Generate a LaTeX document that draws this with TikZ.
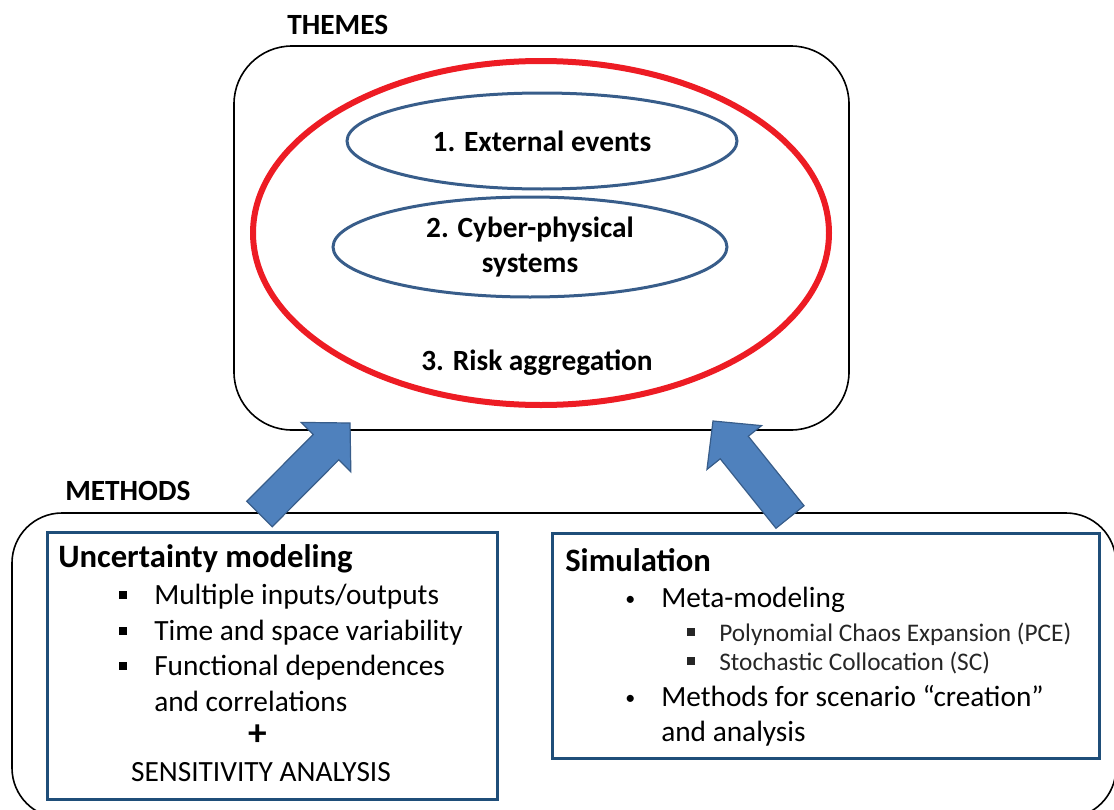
\documentclass[tikz,border=0pt]{standalone}
\usepackage{fontspec}
\setmainfont{Carlito}
\usetikzlibrary{shapes.geometric,calc}

\definecolor{framered}{RGB}{237,28,36}
\definecolor{ovalblue}{RGB}{56,93,138}
\definecolor{boxblue}{RGB}{31,78,121}
\definecolor{arrowfill}{RGB}{79,129,189}
\definecolor{arrowline}{RGB}{56,93,138}

\tikzset{
  framebox/.style={draw=black, line width=1.2pt, inner sep=0pt},
  methodbox/.style={draw=boxblue, line width=2.25pt, inner sep=0pt},
  oval/.style={ellipse, draw=ovalblue, line width=2.25pt, inner sep=0pt},
  blockarrow/.style={fill=arrowfill, draw=arrowline, line width=0.9pt, line join=miter},
  titletext/.style={inner sep=0pt, font=\fontsize{22}{26.25}\selectfont\bfseries},
  headtext/.style={inner sep=0pt, font=\fontsize{24.5}{29}\selectfont\bfseries},
  itemtext/.style={inner sep=0pt, font=\fontsize{22}{26.25}\selectfont},
  subtext/.style={inner sep=0pt, font=\fontsize{19}{23}\selectfont, text=black!85},
  dotbullet/.style={inner sep=0pt, font=\fontsize{15}{18}\selectfont},
}

% block arrow from a foot coordinate to a tip coordinate
\newcommand{\methodarrow}[2]{%
  \coordinate (#1-base) at ($(#2)!25.5pt!(#1)$);
  \draw[blockarrow] ($(#1)!13.5pt!90:(#2)$) -- ($(#1-base)!13.5pt!-90:(#1)$)
    -- ($(#1-base)!26.25pt!-90:(#1)$) -- (#2) -- ($(#1-base)!26.25pt!90:(#1)$)
    -- ($(#1-base)!13.5pt!90:(#1)$) -- ($(#1)!13.5pt!-90:(#2)$) -- cycle;
}
\newcommand{\sqbullet}{\raisebox{4pt}{\rule{6pt}{6pt}}}

\begin{document}
\begin{tikzpicture}[x=0.75pt,y=0.75pt,yscale=-1,xscale=1]
\useasboundingbox (0,0) rectangle (1114,810);
\clip (0,0) rectangle (1114,810);

%Shape: Rounded Rectangle [themes]
\node (themes) [framebox, rounded corners=43.5pt, minimum width=461.25pt, minimum height=288pt] at (541.5,238) {};
%Shape: Ellipse [aggregation]
\node (agg) [ellipse, draw=framered, line width=4.5pt, inner sep=0pt, minimum width=432pt, minimum height=258pt] at (541,233) {};
%Shape: Ellipse [external events]
\node (ext) [oval, minimum width=292.5pt, minimum height=72pt, font=\fontsize{22}{26.25}\selectfont\bfseries] at (542,141) {1. External events};
%Shape: Ellipse [cyber-physical]
\node (cps) [oval, align=center, minimum width=295.5pt, minimum height=75pt, font=\fontsize{22}{26.25}\selectfont\bfseries] at (530,247) {2. Cyber-physical\\systems};

% Text Node
\draw (537,370) node (risk) [titletext, anchor=base] {3. Risk aggregation};
% Text Node
\draw (287,34) node (themestitle) [titletext, anchor=base west] {THEMES};

%Shape: Rounded Rectangle [methods]
\node (methods) [framebox, rounded corners=37.5pt, minimum width=828pt, minimum height=228.75pt] at (564,665.5) {};
% Text Node
\draw (65,500) node (methodstitle) [titletext, anchor=base west] {METHODS};

%Shape: Rectangle [uncertainty]
\node (unc) [methodbox, minimum width=337.5pt, minimum height=200.25pt] at (272,665.5) {};
%Shape: Rectangle [simulation]
\node (sim) [methodbox, minimum width=410.25pt, minimum height=168.75pt] at (825.5,645.5) {};

% Text Node
\draw (58,567) node (unchead) [headtext, anchor=base west] {Uncertainty modeling};
\draw (119,604) node (ub1) [itemtext, anchor=base west] {\sqbullet};
\draw (154,604) node (ui1) [itemtext, anchor=base west] {Multiple inputs/outputs};
\draw (119,640) node (ub2) [itemtext, anchor=base west] {\sqbullet};
\draw (154,640) node (ui2) [itemtext, anchor=base west] {Time and space variability};
\draw (119,675) node (ub3) [itemtext, anchor=base west] {\sqbullet};
\draw (154,675) node (ui3) [itemtext, anchor=base west] {Functional dependences};
\draw (154,711) node (ui4) [itemtext, anchor=base west] {and correlations};
\draw (258,745) node (plus) [inner sep=0pt, anchor=base, font=\fontsize{28}{28}\selectfont\bfseries] {+};
\draw (261,781) node (sens) [itemtext, anchor=base] {SENSITIVITY ANALYSIS};

% Text Node
\draw (565,571) node (simhead) [headtext, anchor=base west] {Simulation};
\draw (625,605) node (sb1) [dotbullet, anchor=base west] {\textbullet};
\draw (661,607) node (si1) [itemtext, anchor=base west] {Meta-modeling};
\draw (687,641) node (ss1) [subtext, anchor=base west] {\sqbullet};
\draw (719,641) node (sj1) [subtext, anchor=base west] {Polynomial Chaos Expansion (PCE)};
\draw (687,670) node (ss2) [subtext, anchor=base west] {\sqbullet};
\draw (719,670) node (sj2) [subtext, anchor=base west] {Stochastic Collocation (SC)};
\draw (625,704) node (sb2) [dotbullet, anchor=base west] {\textbullet};
\draw (661,706) node (si2) [itemtext, anchor=base west] {Methods for scenario “creation”};
\draw (661,741) node (si3) [itemtext, anchor=base west] {and analysis};

%Block Arrows
\coordinate (uncfoot) at (259.5,514);
\coordinate (unctip) at (350,423);
\coordinate (simfoot) at (790,517);
\coordinate (simtip) at (713,421);
\methodarrow{uncfoot}{unctip}
\methodarrow{simfoot}{simtip}

\end{tikzpicture}
\end{document}
